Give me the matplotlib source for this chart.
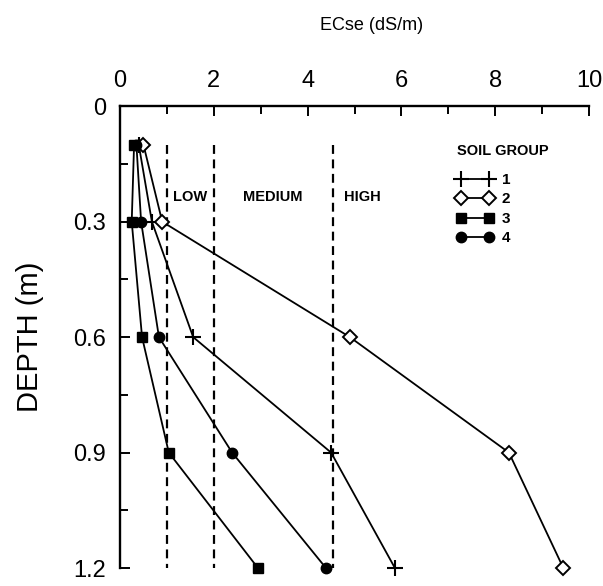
import matplotlib
matplotlib.use("Agg")
import matplotlib.pyplot as plt
from matplotlib.ticker import MultipleLocator

depth = [0.1, 0.3, 0.6, 0.9, 1.2]
group1 = [0.40, 0.68, 1.56, 4.50, 5.86]
group2 = [0.50, 0.90, 4.90, 8.29, 9.45]
group3 = [0.30, 0.25, 0.47, 1.04, 2.94]
group4 = [0.35, 0.45, 0.83, 2.39, 4.39]
group_labels = ["1", "2", "3", "4"]
thresholds = [1.0, 2.0, 4.54]
class_labels = ["LOW", "MEDIUM", "HIGH"]
class_x = [1.13, 2.62, 4.78]
xticks = [0, 2, 4, 6, 8, 10]
yticks = [0, 0.3, 0.6, 0.9, 1.2]
ytick_labels = ["0", "0.3", "0.6", "0.9", "1.2"]

plt.rcParams['font.family'] = ['Liberation Sans', 'DejaVu Sans']

fig = plt.figure(figsize=(6.03, 5.86), dpi=100)
ax = fig.add_axes([0.199, 0.0307, 0.778, 0.788])

styles = [
    dict(marker='+', markersize=11, markeredgewidth=1.5, color='black'),
    dict(marker='D', markersize=7, markerfacecolor='white', markeredgewidth=1.4, color='black'),
    dict(marker='s', markersize=7.5, color='black'),
    dict(marker='o', markersize=7.5, color='black'),
]
for vals, lab, st in zip([group1, group2, group3, group4], group_labels, styles):
    ax.plot(vals, depth, linewidth=1.3, label=lab, clip_on=False, zorder=3, **st)

for t in thresholds:
    ax.plot([t, t], [0.1, 1.2], linestyle=(0, (4, 2.5)), color='black',
            linewidth=1.6, clip_on=False, zorder=2)

for lab, xx in zip(class_labels, class_x):
    ax.text(xx, 0.236, lab, fontsize=10.5, fontweight='bold', va='center', ha='left')

ax.set_xlim(0, 10)
ax.set_ylim(1.2, 0)
ax.xaxis.tick_top()
ax.xaxis.set_label_position('top')
ax.set_xticks(xticks)
ax.xaxis.set_minor_locator(MultipleLocator(1))
ax.set_yticks(yticks)
ax.set_yticklabels(ytick_labels)
ax.yaxis.set_minor_locator(MultipleLocator(0.15))
ax.tick_params(which='both', direction='in', width=1.4)
ax.tick_params(which='major', length=7, labelsize=17)
ax.tick_params(which='minor', length=6)
ax.tick_params(axis='x', pad=10)
ax.tick_params(axis='y', pad=10)
ax.spines['right'].set_visible(False)
ax.spines['bottom'].set_visible(False)
ax.spines['left'].set_linewidth(1.7)
ax.spines['top'].set_linewidth(1.7)
ax.set_xlabel("ECse (dS/m)", fontsize=13)
ax.xaxis.set_label_coords(0.537, 1.165)
ax.set_ylabel("DEPTH (m)", fontsize=21, labelpad=21)

leg = ax.legend(title="SOIL GROUP", loc='upper left',
                bbox_to_anchor=(446 / 603, 1 - 133 / 586), bbox_transform=fig.transFigure,
                frameon=False, numpoints=2, handlelength=2.4,
                handletextpad=0.55, labelspacing=0.36, borderpad=0.2,
                prop={'size': 11, 'weight': 'bold'})
leg.get_title().set_fontsize(10.5)
leg.get_title().set_fontweight('bold')
leg._legend_box.align = "left"
leg._legend_box.sep = 11

fig.savefig("out.png", dpi=100)
